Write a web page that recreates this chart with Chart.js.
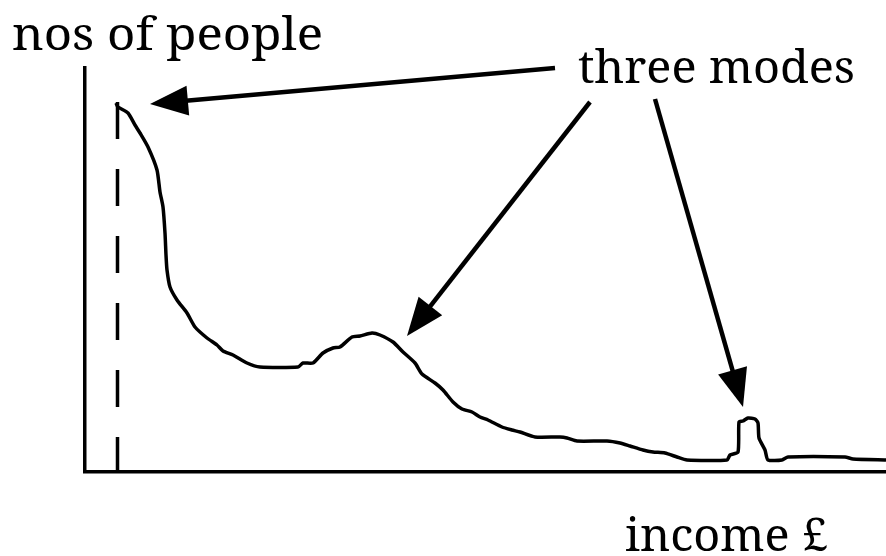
<!DOCTYPE html>
<html>
<head>
<meta charset="utf-8">
<script src="https://cdn.jsdelivr.net/npm/chart.js@4.4.1/dist/chart.umd.min.js"></script>
<style>
  html, body { margin: 0; padding: 0; background: #fff; }
  #chart { display: block; }
</style>
</head>
<body>
<canvas id="chart" width="886" height="556"></canvas>
<script>
// income (x) against number of people (y)
const incomeValues = [31, 33, 43, 50, 55, 63, 72, 75, 78, 80, 81, 82, 85, 92, 102, 110, 122, 132, 138, 148,
  162, 175, 213, 218, 228, 238, 248, 255, 267, 275, 287, 295, 308, 318, 330, 337, 350, 358, 368, 377,
  387, 395, 403, 417, 427, 435, 450, 475, 482, 492, 522, 535, 545, 558, 568, 580, 592, 602, 642, 645,
  653, 654, 658, 663, 670, 673, 674, 680, 683, 697, 703, 760, 768, 801];
const peopleValues = [369, 365, 359, 347, 339, 325, 302, 280, 265, 239, 217, 202, 185, 172, 159, 145, 134, 127, 121, 117,
  109, 105, 105, 109, 109, 119, 124, 125, 135, 136, 139, 137, 130, 120, 109, 98, 89, 82, 70, 63,
  60, 55, 52, 45, 42, 40, 35, 35, 34, 31, 31, 29, 26, 22, 20, 19, 15, 12, 12, 17,
  20, 50, 51, 54, 53, 49, 34, 22, 12, 12, 15, 15, 13, 12];

// dashed marker at the lowest income
const minIncome = 32.5;
const minIncomeTop = 370;

// arrows: [tailX, tailY, tipX, tipY] in data units
const arrows = [
  [470, 404, 65, 368],
  [505, 370, 322, 136],
  [570, 373, 658, 65]
];

const xMax = 801;
const yMax = 404;

const labelFont = '45px "Noto Serif", "Liberation Serif", serif';

function drawStretched(ctx, text, x, y, width) {
  ctx.save();
  ctx.font = labelFont;
  const w = ctx.measureText(text).width;
  ctx.translate(x, y);
  ctx.scale(width / w, 1);
  ctx.fillText(text, 0, 0);
  ctx.restore();
}

const annotationPlugin = {
  id: 'annotations',
  afterDatasetsDraw(chart) {
    const { ctx, scales: { x, y } } = chart;
    ctx.save();
    ctx.fillStyle = '#000';
    ctx.strokeStyle = '#000';
    const headLen = 38, headW = 30;
    arrows.forEach(([x0, y0, x1, y1]) => {
      const ax = x.getPixelForValue(x0), ay = y.getPixelForValue(y0);
      const bx = x.getPixelForValue(x1), by = y.getPixelForValue(y1);
      const len = Math.hypot(bx - ax, by - ay);
      const ux = (bx - ax) / len, uy = (by - ay) / len;
      const baseX = bx - ux * headLen, baseY = by - uy * headLen;
      ctx.beginPath();
      ctx.lineWidth = 4.5;
      ctx.lineCap = 'butt';
      ctx.moveTo(ax, ay);
      ctx.lineTo(baseX + ux * 2, baseY + uy * 2);
      ctx.stroke();
      ctx.beginPath();
      ctx.moveTo(bx, by);
      ctx.lineTo(baseX - uy * headW / 2, baseY + ux * headW / 2);
      ctx.lineTo(baseX + uy * headW / 2, baseY - ux * headW / 2);
      ctx.closePath();
      ctx.fill();
    });
    ctx.textBaseline = 'alphabetic';
    drawStretched(ctx, 'nos of people', 12, 50, 311);
    drawStretched(ctx, 'three modes', 578, 83, 277);
    drawStretched(ctx, 'income \u00A3', 625, 551, 203);
    ctx.restore();
  }
};

new Chart(document.getElementById('chart'), {
  type: 'scatter',
  plugins: [annotationPlugin],
  data: {
    datasets: [
      {
        data: incomeValues.map((v, i) => ({ x: v, y: peopleValues[i] })),
        showLine: true,
        borderColor: '#000',
        borderWidth: 3.5,
        borderJoinStyle: 'round',
        pointRadius: 0,
        tension: 0.2,
        fill: false,
        clip: false
      },
      {
        data: [{ x: minIncome, y: minIncomeTop }, { x: minIncome, y: 0 }],
        showLine: true,
        borderColor: '#000',
        borderWidth: 3.5,
        borderDash: [37, 30],
        borderCapStyle: 'butt',
        pointRadius: 0,
        fill: false
      }
    ]
  },
  options: {
    responsive: false,
    animation: false,
    layout: { padding: { left: 85, right: 0, top: 68, bottom: 84 } },
    scales: {
      x: {
        type: 'linear', min: 0, max: xMax,
        grid: { display: false, drawTicks: false },
        ticks: { display: false },
        border: { display: true, color: '#000', width: 3.5 }
      },
      y: {
        type: 'linear', min: 0, max: yMax,
        grid: { display: false, drawTicks: false },
        ticks: { display: false },
        border: { display: true, color: '#000', width: 3.5 }
      }
    },
    plugins: {
      legend: { display: false },
      tooltip: { enabled: false },
      title: { display: false }
    }
  }
});
</script>
</body>
</html>
